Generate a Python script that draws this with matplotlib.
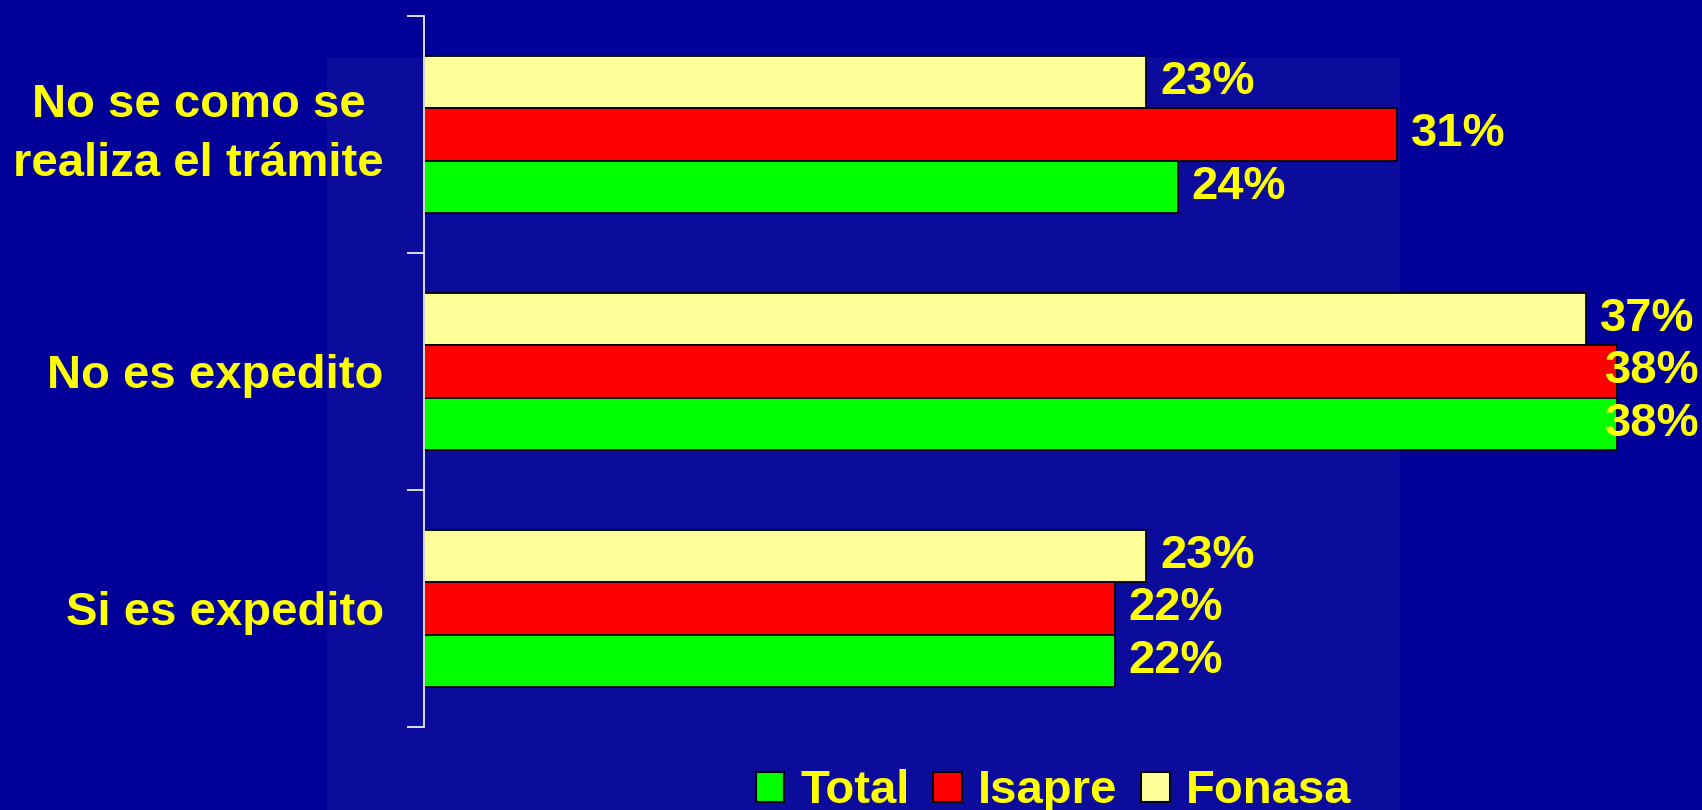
import matplotlib.pyplot as plt
from matplotlib.patches import Rectangle, Patch

plt.rcParams['font.family'] = ['Liberation Sans', 'DejaVu Sans']
plt.rcParams['font.weight'] = 'bold'

# --- Data ---
categories = ['No se como se\nrealiza el trámite', 'No es expedito', 'Si es expedito']
series_names = ['Total', 'Isapre', 'Fonasa']
total = [24, 38, 22]
isapre = [31, 38, 22]
fonasa = [23, 37, 23]

bg_dark = '#000099'
bg_light = '#0c0c9c'
text_yellow = '#ffff00'
colors = {'Total': '#00ff00', 'Isapre': '#ff0000', 'Fonasa': '#ffff99'}
fs = 34

fig = plt.figure(figsize=(17.02, 8.10), dpi=100, facecolor=bg_dark)

# lighter plot-area panel behind the bars
fig.patches.append(Rectangle((0.1921, 0.0), 0.6305, 0.928, transform=fig.transFigure,
                             facecolor=bg_light, edgecolor='none', zorder=-5))

ax = fig.add_axes([0.2491, 0.1025, 0.738, 0.8778])
ax.set_facecolor('none')
ax.set_zorder(2)

h = 0.22
ypos = list(range(len(categories)))
series = [('Fonasa', fonasa, -h), ('Isapre', isapre, 0), ('Total', total, h)]

labels = []
for name, vals, off in series:
    y = [p + off for p in ypos]
    ax.barh(y, vals, height=h, color=colors[name], edgecolor='black', linewidth=1.3, zorder=2)
    for yy, v in zip(y, vals):
        t = ax.annotate(f'{v}%', xy=(v, yy), xytext=(10, 0), textcoords='offset points',
                        ha='left', va='center', color=text_yellow, fontsize=fs,
                        fontweight='bold', zorder=3)
        labels.append(t)

ax.set_xlim(0, 40)
ax.set_ylim(-0.5, 2.5)
ax.invert_yaxis()

# axis: only the white left spine with ticks between categories
for s in ['top', 'right', 'bottom']:
    ax.spines[s].set_visible(False)
ax.spines['left'].set_color('white')
ax.spines['left'].set_linewidth(1.2)
ax.spines['left'].set_zorder(4)
ax.set_xticks([])
ax.set_yticks([-0.5, 0.5, 1.5, 2.5])
ax.set_yticklabels([])
ax.tick_params(axis='y', which='major', length=12, width=1.2, color='white', direction='out')
ax.set_yticks(ypos, minor=True)
ax.set_yticklabels(categories, minor=True, fontsize=fs, fontweight='bold',
                   color=text_yellow, linespacing=1.45, multialignment='center')
ax.tick_params(axis='y', which='minor', length=0, pad=29)
# the two-line label is centred as a block
for lab in ax.get_yticklabels(minor=True):
    if '\n' in lab.get_text():
        lab.set_verticalalignment('center')

# pull back labels that run past the right edge of the figure
fig.canvas.draw()
renderer = fig.canvas.get_renderer()
W = fig.bbox.width
for t in labels:
    bb = t.get_window_extent(renderer)
    if bb.x1 > W - 2:
        x, y = t.get_position()
        t.set_position((x - (bb.x1 - (W - 2)) * 72 / fig.dpi, y))

# legend at the bottom
handles = [Patch(facecolor=colors[n], edgecolor='black', linewidth=1.5) for n in series_names]
leg = fig.legend(handles, series_names, loc='center', bbox_to_anchor=(0.619, 0.023),
                 ncol=3, frameon=False, fontsize=fs, handlelength=0.6, handleheight=0.6,
                 handletextpad=0.35, columnspacing=0.5, borderpad=0)
for txt in leg.get_texts():
    txt.set_color(text_yellow)
    txt.set_fontweight('bold')

plt.savefig('out.png', dpi=100, facecolor=bg_dark)
